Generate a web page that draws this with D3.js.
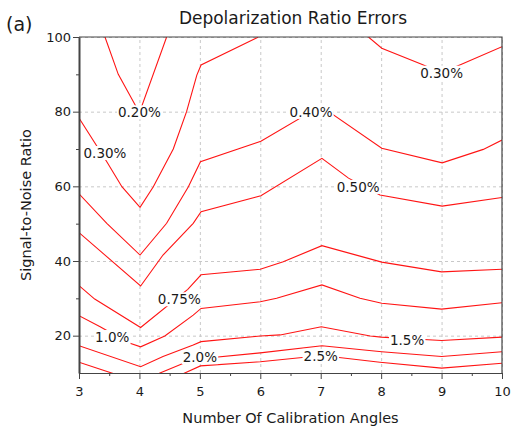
<!DOCTYPE html>
<html>
<head>
<meta charset="utf-8">
<script src="https://cdn.jsdelivr.net/npm/d3@7"></script>
<style>
	body { margin: 0; background: #fff; }
	text { font-family: "DejaVu Sans", Verdana, sans-serif; fill: #1a1a1a; }
	.grid line { stroke: #c8c8c8; stroke-dasharray: 3,3; }
	.grid path { display: none; }
	.axis path, .axis line { stroke: #444; }
</style>
</head>
<body>
<div class="graph"></div>
<script>

//axis ranges and ticks
var xDomain = [3, 10],
	yDomain = [10, 100],
	xTicks = [3, 4, 5, 6, 7, 8, 9, 10],
	xMinor = [3.5, 4.5, 5.5, 6.5, 7.5, 8.5, 9.5],
	yTicks = [20, 40, 60, 80, 100],
	yMinor = [30, 50, 70, 90];

//contour lines as [angles, snr]
var c020 = [[3.43,100],[3.65,90],[4,79.7],[4.45,100]];
var c030left = [[3,78.3],[3.46,66.6],[3.71,59.9],[4.01,54.4],[4.23,59.9],[4.56,70],[4.78,80],[4.95,89.8],[5.02,92.5],[5.97,100]];
var c030right = [[7.79,100],[8.01,97],[8.67,92.7],[9,90.4],[9.33,92.7],[10,97.4]];
var c040 = [[3,58],[3.46,50.1],[4.01,41.6],[4.45,50.1],[4.81,59.9],[5.01,66.6],[6.01,72.1],[7,81.5],[8.01,70.2],[9.01,66.3],[9.69,69.9],[10,72.4]];
var c050 = [[3,47.6],[4.02,33.3],[4.39,41.6],[4.89,50.1],[5.02,53.2],[6.01,57.5],[7.02,67.5],[7.46,62.2],[7.98,57.7],[9.01,54.7],[10,57]];
var c075 = [[3,33.4],[3.26,29.8],[4.02,22.2],[4.8,32.4],[5.02,36.3],[6,37.8],[6.38,39.8],[7.02,44.1],[8.01,39.7],[9,37.1],[10,37.8]];
var c100 = [[3,25.35],[3.35,22.4],[3.82,18.1],[4.02,17],[4.42,19.9],[4.89,25.5],[5.02,27.3],[6,29.1],[6.27,30],[7.02,33.6],[7.65,30],[8.01,28.7],[9,27.1],[10,28.8]];
var c150 = [[3,17.3],[4.02,11.7],[4.39,14.4],[4.89,17.5],[5.02,18.4],[6,19.9],[6.33,20.2],[7.01,22.4],[7.82,19.9],[8,19.6],[9,18.7],[10,19.6]];
var c200 = [[3,12.9],[3.54,10],[4,7.6],[4.34,10],[4.73,12.6],[5,13.8],[6,15.4],[7.02,17.3],[8.01,15.7],[9,14.4],[10,15.7]];
var c250 = [[4.6,8.9],[4.75,10],[5.01,11.9],[6,13],[7.02,14.7],[7.98,12.9],[9,11.3],[10,12.6]];

var contours = [c020, c030left, c030right, c040, c050, c075, c100, c150, c200, c250];

//inline contour labels
var labelText = ["0.20%", "0.30%", "0.30%", "0.40%", "0.50%", "0.75%", "1.0%", "1.5%", "2.0%", "2.5%"],
	labelX = [4.0, 3.43, 9.0, 6.84, 7.62, 4.66, 3.55, 8.43, 5.0, 7.0],
	labelY = [79.8, 68.9, 90.4, 79.9, 59.8, 29.7, 19.6, 18.8, 14.2, 14.55];

var drawGraph = function(){

	//svg size vars
	var W = 511, H = 433,
		margin = {top: 37, right: 9, bottom: 60, left: 79},
		width = W - margin.left - margin.right,
		height = H - margin.top - margin.bottom;

	var svg = d3.select(".graph").append("svg")
		.attr("width", W)
		.attr("height", H);

	var g = svg.append("g")
		.attr("transform", "translate(" + margin.left + "," + margin.top + ")");

	var xScale = d3.scaleLinear().domain(xDomain).range([0, width]);
	var yScale = d3.scaleLinear().domain(yDomain).range([height, 0]);

	//dashed grid
	g.append("g")
		.attr("class", "grid")
		.attr("transform", "translate(0," + height + ")")
		.call(d3.axisBottom(xScale).tickValues(xTicks).tickSize(-height).tickFormat(""));
	g.append("g")
		.attr("class", "grid")
		.call(d3.axisLeft(yScale).tickValues(yTicks).tickSize(-width).tickFormat(""));

	//clip the contours to the frame
	svg.append("clipPath")
		.attr("id", "plotClip")
		.append("rect")
		.attr("width", width)
		.attr("height", height);

	var line = d3.line()
		.x(function(d){ return xScale(d[0]); })
		.y(function(d){ return yScale(d[1]); });

	g.append("g")
		.attr("clip-path", "url(#plotClip)")
		.selectAll("path")
		.data(contours)
		.enter().append("path")
		.attr("d", line)
		.attr("fill", "none")
		.attr("stroke", "#ff1414")
		.attr("stroke-width", 1.1);

	//labels with a white box that breaks the line
	var labels = g.selectAll(".clabel")
		.data(labelText)
		.enter().append("g")
		.attr("class", "clabel");

	labels.append("text")
		.attr("x", function(d, i){ return xScale(labelX[i]); })
		.attr("y", function(d, i){ return yScale(labelY[i]); })
		.attr("dy", "0.36em")
		.attr("text-anchor", "middle")
		.style("font-size", "13.5px")
		.text(function(d){ return d; });

	labels.each(function(){
		var t = d3.select(this).select("text"),
			b = t.node().getBBox();
		d3.select(this).insert("rect", "text")
			.attr("x", b.x - 1)
			.attr("y", b.y + 1)
			.attr("width", b.width + 2)
			.attr("height", b.height - 2)
			.attr("fill", "#fff");
	});

	//minor ticks
	g.append("g")
		.attr("class", "axis")
		.attr("transform", "translate(0," + height + ")")
		.call(d3.axisBottom(xScale).tickValues(xMinor).tickSize(3).tickSizeOuter(0).tickFormat(""));
	g.append("g")
		.attr("class", "axis")
		.call(d3.axisLeft(yScale).tickValues(yMinor).tickSize(3).tickSizeOuter(0).tickFormat(""));

	//x axis
	g.append("g")
		.attr("class", "axis")
		.attr("transform", "translate(0," + height + ")")
		.call(d3.axisBottom(xScale).tickValues(xTicks).tickSize(6).tickSizeOuter(0).tickPadding(8).tickFormat(d3.format("d")))
		.selectAll("text").style("font-size", "13px");

	//y axis
	var yAxisG = g.append("g")
		.attr("class", "axis")
		.call(d3.axisLeft(yScale).tickValues(yTicks).tickSize(6).tickSizeOuter(0).tickPadding(2));
	yAxisG.selectAll("text").style("font-size", "13px");
	yAxisG.select("path").attr("stroke", "#777").attr("stroke-width", 2);

	//top and right frame
	g.append("path")
		.attr("d", "M0,0H" + width + "V" + height)
		.attr("fill", "none")
		.attr("stroke", "#444")
		.attr("stroke-width", 1.2);

	//titles
	svg.append("text")
		.attr("x", 293)
		.attr("y", 24)
		.attr("text-anchor", "middle")
		.style("font-size", "17px")
		.text("Depolarization Ratio Errors");

	svg.append("text")
		.attr("x", 6)
		.attr("y", 31)
		.style("font-size", "19px")
		.text("(a)");

	svg.append("text")
		.attr("x", margin.left + width / 2)
		.attr("y", 423)
		.attr("text-anchor", "middle")
		.style("font-size", "14.5px")
		.text("Number Of Calibration Angles");

	svg.append("text")
		.attr("transform", "translate(31," + (margin.top + height / 2) + ") rotate(-90)")
		.attr("text-anchor", "middle")
		.style("font-size", "14.5px")
		.text("Signal-to-Noise Ratio");
};

drawGraph();
</script>
</body>
</html>
